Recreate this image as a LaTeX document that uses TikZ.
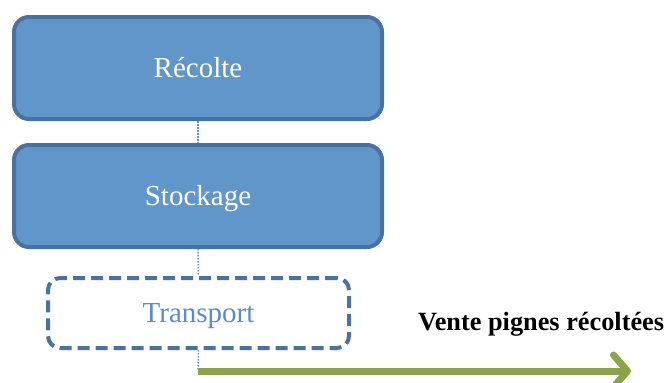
\documentclass[tikz,border=0pt]{standalone}
\usepackage{fontspec}
\setmainfont{Liberation Serif}
\usetikzlibrary{arrows.meta}
\definecolor{boxfill}{HTML}{6196CA}
\definecolor{boxline}{HTML}{4872A0}
\definecolor{linkblue}{HTML}{5B93D3}
\definecolor{textblue}{HTML}{5B8BC8}
\definecolor{salegreen}{HTML}{8DA34B}
\tikzset{
  stagebox/.style={draw=boxline, line width=4pt, fill=boxfill, rounded corners=15pt,
    minimum width=368pt, minimum height=102pt, inner sep=0pt,
    text height=20pt, text depth=2pt,
    text=white, font=\fontsize{29}{34}\selectfont},
  plannedbox/.style={draw=boxline, line width=4pt, dash pattern=on 12pt off 6pt,
    rounded corners=12pt, fill=white, minimum width=301pt, minimum height=70pt,
    inner sep=0pt, text height=20pt, text depth=2pt,
    text=textblue, font=\fontsize{29}{34}\selectfont},
  link/.style={draw=linkblue, line width=1.5pt, dash pattern=on 1.5pt off 1.5pt},
  salearrow/.style={draw=salegreen, line width=7pt,
    -{Straight Barb[length=14pt, width=32pt, round]}},
  salelabel/.style={font=\bfseries\fontsize{26.3}{31}\selectfont, inner sep=0pt}
}
\begin{document}
\begin{tikzpicture}[x=1pt, y=-1pt]
  \useasboundingbox (0,0) rectangle (670,383);
  \node[stagebox] (recolte) at (198,68) {Récolte};
  \node[stagebox] (stockage) at (198,196) {Stockage};
  \node[plannedbox] (transport) at (198.5,313) {Transport};
  \coordinate (start) at (198,371);
  \coordinate (end) at (631,371);
  \draw[link] (recolte.south) -- (stockage.north);
  \draw[link] (stockage.south) -- (transport.north);
  \draw[link] (transport.south) -- (start);
  \draw[salearrow] (start) -- (end);
  \node[salelabel, anchor=base west] (vente) at (418,330) {Vente pignes récoltées};
\end{tikzpicture}
\end{document}
